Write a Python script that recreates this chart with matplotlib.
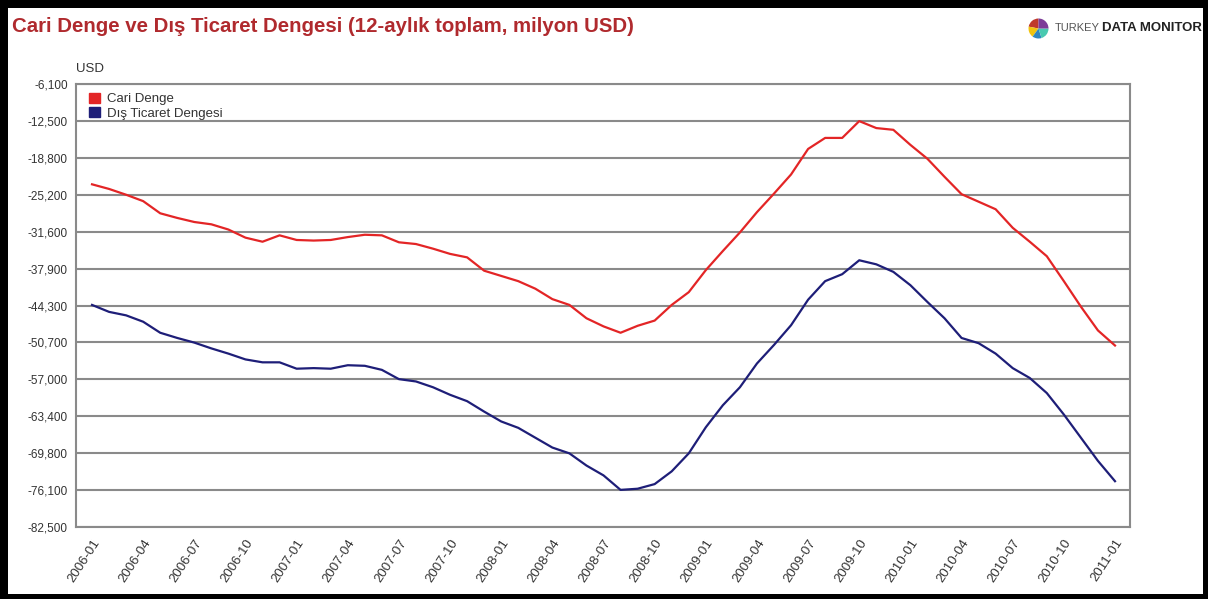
import numpy as np
import matplotlib
matplotlib.use('Agg')
import matplotlib.pyplot as plt
from matplotlib.patches import Patch, Rectangle

plt.rcParams['font.family'] = ['Liberation Sans', 'DejaVu Sans']

W, H = 1208, 599

# monthly, 2006-01 .. 2011-01 (12-month rolling sums, million USD)
months = [f'{y}-{m:02d}' for y in range(2006, 2012) for m in range(1, 13)][:61]

cari_denge = [
    -23400, -24200, -25200, -26300, -28400, -29200, -29900, -30300, -31200, -32600,
    -33300, -32200, -33000, -33100, -33000, -32500, -32100, -32200, -33400, -33700,
    -34500, -35400, -36000, -38300, -39200, -40100, -41400, -43200, -44200, -46500,
    -47900, -49000, -47800, -46900, -44200, -42000, -38200, -34900, -31700, -28200,
    -25000, -21700, -17300, -15400, -15400, -12500, -13700, -14000, -16600, -19000,
    -22100, -25100, -26400, -27700, -30900, -33300, -35800, -40100, -44500, -48600,
    -51200,
]
dis_ticaret = [
    -44200, -45400, -46000, -47100, -49000, -49900, -50700, -51700, -52600, -53600,
    -54100, -54100, -55200, -55100, -55200, -54600, -54700, -55400, -57000, -57400,
    -58400, -59700, -60800, -62600, -64300, -65400, -67100, -68800, -69800, -71900,
    -73600, -76100, -75900, -75100, -72900, -69800, -65300, -61500, -58400, -54300,
    -51100, -47700, -43300, -40100, -38900, -36500, -37200, -38500, -40800, -43700,
    -46500, -49900, -50800, -52600, -55100, -56800, -59400, -63100, -67100, -71100,
    -74600,
]

ytick_labels = ['-82,500', '-76,100', '-69,800', '-63,400', '-57,000', '-50,700',
                '-44,300', '-37,900', '-31,600', '-25,200', '-18,800', '-12,500', '-6,100']

red = '#e32526'
navy = '#1e1e78'


def px_rect(x0, y0, w, h):
    # pixel box measured from the top-left -> figure fraction box
    return [x0 / W, 1 - (y0 + h) / H, w / W, h / H]


fig = plt.figure(figsize=(W / 100, H / 100), dpi=100)
ax = fig.add_axes(px_rect(76, 84, 1130 - 76, 527 - 84))

x = np.arange(len(months))
ax.plot(x, cari_denge, color=red, lw=1.6, zorder=3)
ax.plot(x, dis_ticaret, color=navy, lw=1.6, zorder=3)

ymin, ymax = -82500, -6100
ax.set_ylim(ymin, ymax)
ax.set_yticks(np.linspace(ymin, ymax, len(ytick_labels)))
ax.set_yticklabels(ytick_labels, fontsize=8.5, color='#333333')
ax.set_xlim(-0.94, 60.88)
ax.set_xticks(x[::3])
ax.set_xticklabels(months[::3], rotation=57, ha='right', rotation_mode='anchor',
                   fontsize=9.5, color='#333333')
ax.tick_params(length=0, pad=6)
ax.tick_params(axis='x', pad=7)
ax.grid(axis='y', color='#8a8a8a', lw=1.5)
ax.set_axisbelow(True)
for s in ax.spines.values():
    s.set_color('#8a8a8a')
    s.set_linewidth(1.5)

ax.text(0, 1.02, 'USD', transform=ax.transAxes, fontsize=9.5, color='#333333',
        ha='left', va='bottom')

handles = [Patch(facecolor=red, edgecolor=red), Patch(facecolor=navy, edgecolor=navy)]
ax.legend(handles, ['Cari Denge', 'Dış Ticaret Dengesi'], loc='upper left',
          bbox_to_anchor=(0.004, 1.0), frameon=False, fontsize=9.5,
          handlelength=0.85, handleheight=0.85, handletextpad=0.55,
          labelspacing=0.1, borderaxespad=0.25, labelcolor='#333333')

fig.text(12 / W, 1 - 26 / H, 'Cari Denge ve Dış Ticaret Dengesi (12-aylık toplam, milyon USD)',
         fontsize=14.7, fontweight='bold', color='#b02a2e', ha='left', va='center')

# logo
lax = fig.add_axes(px_rect(1025, 16, 27, 25))
lax.pie([22, 18, 15, 20, 25], colors=['#c0392b', '#f1c40f', '#2e86c1', '#48c9b0', '#7d3c98'],
        startangle=90)
lax.set_aspect('equal')
fig.text(1055 / W, 1 - 28 / H, 'TURKEY', fontsize=8, color='#555555',
         ha='left', va='center')
fig.text(1102 / W, 1 - 28 / H, 'DATA MONITOR', fontsize=9.5, color='#222222',
         fontweight='bold', ha='left', va='center')

# black frame
for box in [(0, 0, W, 8), (0, 0, 8, H), (W - 5, 0, 5, H), (0, H - 5, W, 5)]:
    fig.patches.append(Rectangle(px_rect(*box)[:2], *px_rect(*box)[2:],
                                 transform=fig.transFigure, facecolor='black',
                                 edgecolor='none', zorder=10))

fig.savefig('out.png', dpi=100)
